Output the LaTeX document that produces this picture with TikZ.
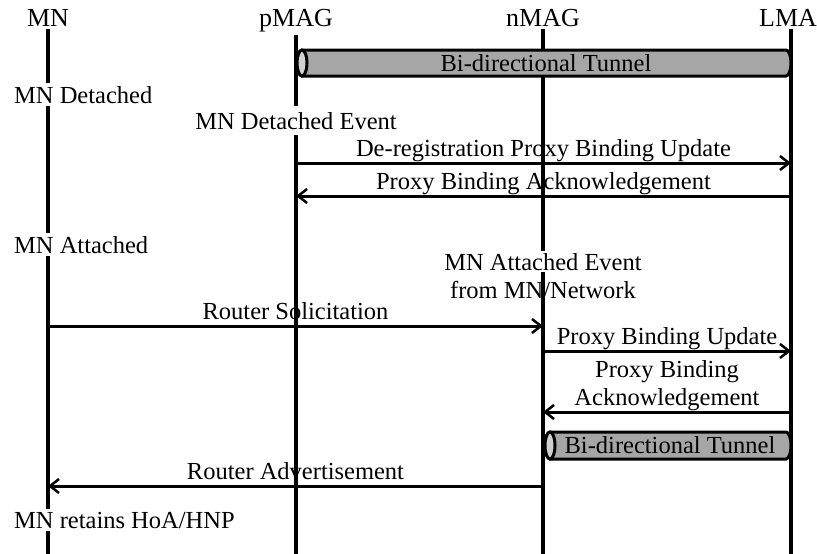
\documentclass[tikz,border=0pt]{standalone}
\usepackage{fontspec}
\setmainfont{Liberation Serif}
\usetikzlibrary{arrows.meta}
\begin{document}
\begin{tikzpicture}[x=1pt,y=-1pt,
  every node/.style={font=\fontsize{24.5}{28}\selectfont, inner sep=2pt},
  head/.style={anchor=base, font=\fontsize{26}{30}\selectfont},
  life/.style={line width=3.5pt},
  msg/.style={line width=3pt, -{Straight Barb[length=9pt,width=14pt,line width=2.5pt]}},
  lbl/.style={anchor=south, inner sep=0pt, text depth=0pt, yshift=5pt, align=center},
  note/.style={anchor=base west, fill=white, inner sep=3pt},
  tunnelbody/.style={draw=black, line width=3pt, fill=tunnelgray},
  tunnelcap/.style={draw=black, line width=3pt, fill=capgray}
]
\definecolor{tunnelgray}{HTML}{A6A6A6}
\definecolor{capgray}{HTML}{D0D0D0}
\useasboundingbox (0,0) rectangle (817,554);

% entities
\node[head] (MN)   at (48,27)  {MN};
\node[head] (pMAG) at (296,27) {pMAG};
\node[head] (nMAG) at (543,27) {nMAG};
\node[head] (LMA)  at (788,27) {LMA};
\coordinate (bottom) at (0,554);
\coordinate (lmax) at (791,0);

% lifelines
\draw[life] (MN.south)   -- (MN.south |- bottom);
\draw[life] (pMAG.south) -- (pMAG.south |- bottom);
\draw[life] (nMAG.south) -- (nMAG.south |- bottom);
\draw[life] (LMA.south -| lmax) -- (lmax |- bottom);

% bi-directional tunnel pMAG -- LMA
\draw[tunnelbody] (302,50) -- (786,50) arc (-90:90:5 and 13) -- (302,76) arc (90:270:5 and 13) -- cycle;
\draw[tunnelcap] (302,63) ellipse (5 and 13);
\node (tun1) at (546,63) {Bi-directional Tunnel};

% detach phase
\node[note] (det) at (11,103) {MN Detached};
\node[fill=white, anchor=base, inner xsep=2pt, inner ysep=6pt] (detev) at (296,129) {MN Detached Event};

\coordinate (r1) at (0,163);
\coordinate (r2) at (0,196);
\draw[msg] (pMAG |- r1) -- (lmax |- r1)
  node[midway, lbl] (dpbu) {De-registration Proxy Binding Update};
\draw[msg] (lmax |- r2) -- (pMAG |- r2)
  node[midway, lbl] (pba) {Proxy Binding Acknowledgement};

% attach phase
\node[note] (att) at (11,253) {MN Attached};
\node[fill=white, anchor=base, inner sep=2pt] (attev) at (543,270) {MN Attached Event};
\node[anchor=base, inner sep=2pt] (attsrc) at (543,298) {from MN/Network};

\coordinate (r3) at (0,326);
\coordinate (r4) at (0,351);
\coordinate (r5) at (0,412);
\coordinate (r6) at (0,486);
\draw[msg] (MN |- r3) -- (nMAG |- r3)
  node[midway, lbl] (rs) {Router Solicitation};
\draw[msg] (nMAG |- r4) -- (lmax |- r4)
  node[midway, lbl] (pbu) {Proxy Binding Update};
\draw[msg] (lmax |- r5) -- (nMAG |- r5)
  node[midway, lbl] (pba2) {Proxy Binding\\Acknowledgement};

% bi-directional tunnel nMAG -- LMA
\draw[tunnelbody] (550,432) -- (786,432) arc (-90:90:5 and 13.5) -- (550,459) arc (90:270:5 and 13.5) -- cycle;
\draw[tunnelcap] (550,445.5) ellipse (5 and 13.5);
\node (tun2) at (670,445.5) {Bi-directional Tunnel};

\draw[msg] (nMAG |- r6) -- (MN |- r6)
  node[midway, lbl] (ra) {Router Advertisement};

\node[note] (keep) at (11,528) {MN retains HoA/HNP};
\end{tikzpicture}
\end{document}
